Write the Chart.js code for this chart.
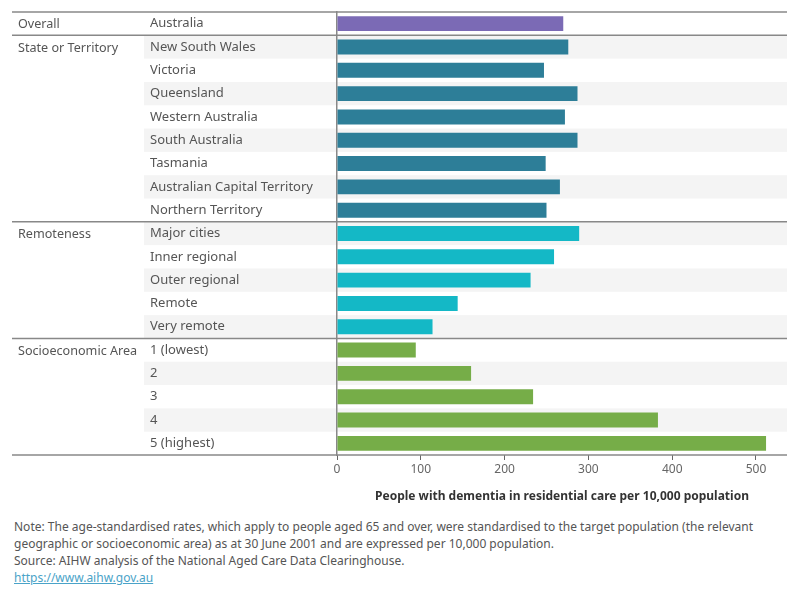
<!DOCTYPE html>
<html>
<head>
<meta charset="utf-8">
<script src="https://cdn.jsdelivr.net/npm/chart.js@4"></script>
<style>
  body { margin: 0; background: #fff; font-family: "Noto Sans", sans-serif; }
  #wrap { position: relative; width: 800px; height: 510px; }
  #notes { position: absolute; left: 14px; top: 518px; font-size: 12px; line-height: 17px; color: #555; white-space: nowrap; }
  #notes a { color: #4aa3c8; }
</style>
</head>
<body>
<div id="wrap"><canvas id="myChart"></canvas></div>
<div id="notes">
  Note: The age-standardised rates, which apply to people aged 65 and over, were standardised to the target population (the relevant<br>
  geographic or socioeconomic area) as at 30 June 2001 and are expressed per 10,000 population.<br>
  Source: AIHW analysis of the National Aged Care Data Clearinghouse.<br>
  <a href="https://www.aihw.gov.au">https://www.aihw.gov.au</a>
</div>
<script>
// row labels, top to bottom
const categories = [
    'Australia',
    'New South Wales', 'Victoria', 'Queensland', 'Western Australia', 'South Australia',
    'Tasmania', 'Australian Capital Territory', 'Northern Territory',
    'Major cities', 'Inner regional', 'Outer regional', 'Remote', 'Very remote',
    '1 (lowest)', '2', '3', '4', '5 (highest)'
];
// people with dementia in residential care per 10,000 population
const rates = [
    270,
    276, 247, 287, 272, 287, 249, 266, 250,
    289, 259, 231, 144, 114,
    94, 160, 234, 383, 512
];
const groupNames = ['Overall', 'State or Territory', 'Remoteness', 'Socioeconomic Area'];
const groupSizes = [1, 8, 5, 5];
const groupColors = ['#7b6ab5', '#2d7e98', '#14b8c6', '#76ad48'];
const xTicks = [0, 100, 200, 300, 400, 500];
const xMax = 537;

const barColors = [];
groupSizes.forEach((n, g) => { for (let i = 0; i < n; i++) barColors.push(groupColors[g]); });

const tableLines = {
    id: 'tableLines',
    beforeDraw(chart) {
        const ctx = chart.ctx, y = chart.scales.y, area = chart.chartArea;
        const step = (area.bottom - area.top) / categories.length;
        ctx.save();
        ctx.fillStyle = '#f4f4f4';
        categories.forEach((c, i) => {
            if (i % 2 === 1) {
                const py = y.getPixelForValue(i);
                ctx.fillRect(144, py - step / 2, area.right - 144, step);
            }
        });
        ctx.restore();
    },
    afterDraw(chart) {
        const ctx = chart.ctx, y = chart.scales.y, area = chart.chartArea;
        const step = (area.bottom - area.top) / categories.length;
        ctx.save();
        ctx.strokeStyle = '#888';
        ctx.lineWidth = 1.5;
        ctx.fillStyle = '#555';
        ctx.font = '12.6px "Noto Sans", sans-serif';
        ctx.textBaseline = 'middle';
        let start = 0;
        groupSizes.forEach((n, g) => {
            const top = y.getPixelForValue(start) - step / 2;
            ctx.beginPath();
            ctx.moveTo(12, top);
            ctx.lineTo(area.right, top);
            ctx.stroke();
            ctx.fillText(groupNames[g], 18, y.getPixelForValue(start) + 1);
            start += n;
        });
        ctx.beginPath();
        ctx.moveTo(12, area.bottom);
        ctx.lineTo(area.right, area.bottom);
        ctx.stroke();
        ctx.restore();
    }
};

const initChart = () => {
    const ctx = document.getElementById('myChart').getContext('2d');
    new Chart(ctx, {
        type: 'bar',
        data: {
            labels: categories,
            datasets: [{
                data: rates,
                backgroundColor: barColors,
                barPercentage: 0.64,
                categoryPercentage: 1
            }]
        },
        options: {
            indexAxis: 'y',
            responsive: true,
            maintainAspectRatio: false,
            animation: false,
            layout: { padding: { left: 150, right: 13, top: 12, bottom: 0 } },
            plugins: { legend: { display: false }, tooltip: { enabled: false } },
            scales: {
                x: {
                    min: 0,
                    max: xMax,
                    afterFit: s => { s.height = 55; },
                    afterBuildTicks: s => { s.ticks = xTicks.map(v => ({ value: v })); },
                    grid: { drawOnChartArea: false, drawTicks: true, tickLength: 5, color: '#666' },
                    border: { display: false },
                    ticks: { color: '#666', padding: 2, font: { size: 12, family: 'Noto Sans' } },
                    title: {
                        display: true,
                        text: 'People with dementia in residential care per 10,000 population',
                        color: '#333',
                        font: { size: 12, weight: 'bold', family: 'Noto Sans' },
                        padding: { top: 0, bottom: 6 }
                    }
                },
                y: {
                    afterFit: s => { s.width = 187; },
                    grid: { display: false },
                    border: { display: true, color: '#888', width: 1.5 },
                    ticks: { crossAlign: 'far', color: '#555', font: { size: 13, family: 'Noto Sans' } }
                }
            }
        },
        plugins: [tableLines]
    });
};

document.addEventListener('DOMContentLoaded', initChart);
</script>
</body>
</html>
